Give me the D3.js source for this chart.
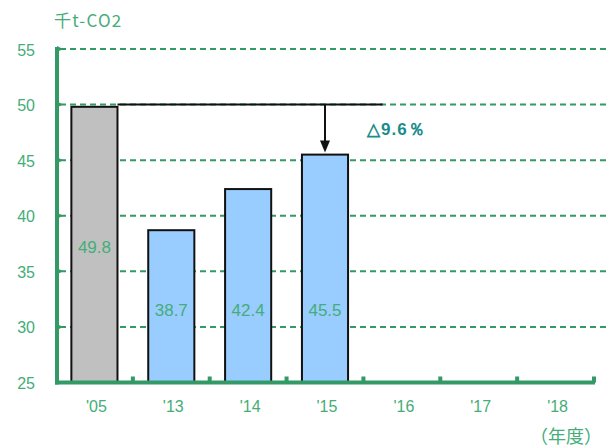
<!DOCTYPE html>
<html><head><meta charset="utf-8">
<script src="https://cdn.jsdelivr.net/npm/d3@7"></script>
<style>body{margin:0;background:#fff}svg{display:block}</style>
</head><body>
<svg id="c" width="606" height="447"></svg>
<script>
const categories = ["'05","'13","'14","'15","'16","'17","'18"];
const values = [49.8, 38.7, 42.4, 45.5, null, null, null];
const barColors = ["#c0c0c0","#99ccff","#99ccff","#99ccff",null,null,null];
const yTicks = [25,30,35,40,45,50,55];
const refLevel = 50;
const labelLevel = 31.5;
const reductionLabel = "△9.6％";
const yUnit = "千t-CO2";
const xUnit = "（年度）";

const green = "#339966", textGreen = "#45ad78";
const font = "Liberation Sans, Arial, sans-serif";
const svg = d3.select("#c");
const x = d3.scaleBand().domain(categories).range([56, 594]).paddingInner(0.4).paddingOuter(0.2);
const y = d3.scaleLinear().domain([25, 55]).range([382.5, 49]);

// gridlines
svg.append("g").selectAll("line").data(yTicks.filter(d => d > 25)).join("line")
  .attr("x1", 60).attr("x2", 606).attr("y1", d => y(d)).attr("y2", d => y(d))
  .attr("stroke", green).attr("stroke-width", 2).attr("stroke-dasharray", "6,4");

// bars
const data = categories.map((c,i)=>({c, i, v: values[i], col: barColors[i]})).filter(d => d.v != null);
svg.append("g").selectAll("rect").data(data).join("rect")
  .attr("x", d => x(d.c)).attr("width", x.bandwidth())
  .attr("y", d => y(d.v)).attr("height", d => y(25) - y(d.v))
  .attr("fill", d => d.col).attr("stroke", "#111").attr("stroke-width", 2);

// value labels
svg.append("g").selectAll("text").data(data).join("text")
  .attr("x", d => x(d.c) + x.bandwidth()/2)
  .attr("y", d => d.i === 0 ? y((25 + d.v)/2) + 3 : y(labelLevel))
  .attr("text-anchor", "middle").attr("dominant-baseline", "central")
  .attr("font-family", font).attr("font-size", 17)
  .attr("fill", textGreen).text(d => d.v.toFixed(1));

// y axis
const yAxis = svg.append("g");
yAxis.append("line").attr("x1", 57).attr("x2", 57).attr("y1", y(55) - 2).attr("y2", y(25) + 2)
  .attr("stroke", green).attr("stroke-width", 4);
yAxis.selectAll("path").data(yTicks.filter(d=>d>25)).join("path")
  .attr("d", d => `M57,${y(d)-3}L63,${y(d)}L57,${y(d)+3}Z`).attr("fill", green);
yAxis.selectAll("text").data(yTicks).join("text")
  .attr("x", 35).attr("y", d => y(d) + 1).attr("text-anchor", "end").attr("dominant-baseline", "central")
  .attr("font-family", font).attr("font-size", 16)
  .attr("fill", textGreen).text(d => d);

// x axis
const xAxis = svg.append("g");
xAxis.append("line").attr("x1", 55).attr("x2", 595).attr("y1", y(25)).attr("y2", y(25))
  .attr("stroke", green).attr("stroke-width", 4);
const step = x.step();
xAxis.selectAll("rect").data(categories).join("rect")
  .attr("x", d => x(d) + x.bandwidth() + (step - x.bandwidth())/2 - 2)
  .attr("y", y(25) - 6).attr("width", 4).attr("height", 6).attr("fill", green);
xAxis.selectAll("text").data(categories).join("text")
  .attr("x", d => x(d) + x.bandwidth()/2 + 2).attr("y", 406)
  .attr("text-anchor", "middle").attr("dominant-baseline", "central")
  .attr("font-family", font).attr("font-size", 16)
  .attr("fill", textGreen).text(d => d);

// units
svg.append("text").attr("x", 54).attr("y", 19).attr("dominant-baseline", "central")
  .attr("font-family", "Noto Sans CJK JP, sans-serif").attr("font-size", 17).attr("letter-spacing", 1.2)
  .attr("fill", textGreen).text(yUnit);
svg.append("text").attr("x", 602).attr("y", 435).attr("text-anchor", "end").attr("dominant-baseline", "central")
  .attr("font-family", "Noto Sans CJK JP, sans-serif").attr("font-size", 18)
  .attr("fill", textGreen).text(xUnit);

// reference line and arrow
const xRefStart = x(categories[0]) + x.bandwidth();
const xRefEnd = x(categories[3]) + x.bandwidth() + step*0.45;
svg.append("line").attr("x1", xRefStart).attr("x2", xRefEnd).attr("y1", y(refLevel)).attr("y2", y(refLevel))
  .attr("stroke", "#111").attr("stroke-width", 2);
const ax = x(categories[3]) + x.bandwidth()/2;
svg.append("line").attr("x1", ax).attr("x2", ax).attr("y1", y(refLevel)).attr("y2", y(values[3]) - 12)
  .attr("stroke", "#111").attr("stroke-width", 2);
svg.append("path").attr("d", `M${ax-5},${y(values[3]) - 14}L${ax+5},${y(values[3]) - 14}L${ax},${y(values[3]) - 2}Z`).attr("fill", "#111");
svg.append("text").attr("x", 367).attr("y", 129).attr("dominant-baseline", "central")
  .attr("font-family", font).attr("font-size", 17).attr("font-weight", "bold").attr("letter-spacing", 1)
  .attr("fill", "#1a8c8c").text(reductionLabel);
</script>
</body></html>
